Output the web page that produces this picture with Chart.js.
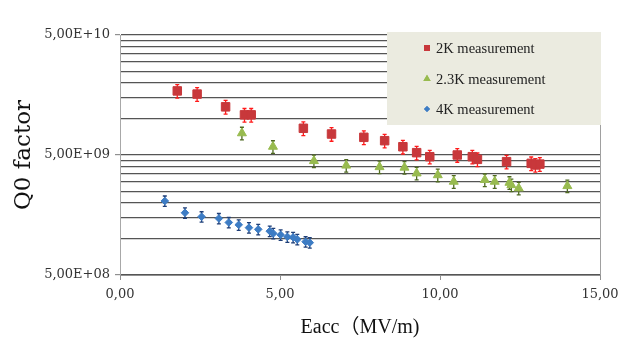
<!DOCTYPE html>
<html>
<head>
<meta charset="utf-8">
<script src="https://cdn.jsdelivr.net/npm/chart.js@4/dist/chart.umd.min.js"></script>
<style>
  html, body { margin: 0; padding: 0; background: #fff; }
  #wrap { width: 620px; height: 342px; }
</style>
</head>
<body>
<div id="wrap"><canvas id="chart" width="620" height="342"></canvas></div>
<script>
// series names (legend)
const seriesNames = ['2K measurement', '2.3K measurement', '4K measurement'];

// 2K measurement
const eacc2K = [1.79, 2.41, 3.30, 3.89, 4.10, 5.73, 6.61, 7.62, 8.27, 8.84, 9.27, 9.68, 10.54, 11.01, 11.17, 12.08, 12.85, 12.98, 13.12];
const q02K = [1.71e10, 1.61e10, 1.26e10, 1.08e10, 1.08e10, 8.35e9, 7.48e9, 7.02e9, 6.58e9, 5.86e9, 5.23e9, 4.84e9, 5.0e9, 4.84e9, 4.6e9, 4.4e9, 4.26e9, 4.13e9, 4.2e9];

// 2.3K measurement
const eacc23K = [3.81, 4.78, 6.06, 7.07, 8.11, 8.89, 9.27, 9.93, 10.43, 11.40, 11.71, 12.17, 12.23, 12.46, 13.98];
const q023K = [7.6e9, 5.87e9, 4.46e9, 4.09e9, 3.97e9, 3.93e9, 3.52e9, 3.40e9, 3.0e9, 3.1e9, 3.0e9, 2.94e9, 2.81e9, 2.64e9, 2.76e9];

// 4K measurement
const eacc4K = [1.40, 2.03, 2.55, 3.09, 3.40, 3.71, 4.03, 4.32, 4.68, 4.79, 5.02, 5.23, 5.41, 5.54, 5.80, 5.93];
const q04K = [2.07e9, 1.65e9, 1.53e9, 1.48e9, 1.37e9, 1.31e9, 1.24e9, 1.20e9, 1.16e9, 1.11e9, 1.08e9, 1.04e9, 1.03e9, 0.99e9, 9.47e8, 9.3e8];

// relative error bar size per series
const relErr = [0.13, 0.12, 0.10];

// axis ticks
const xTicks = [0, 5, 10, 15];
const xTickLabels = ['0,00', '5,00', '10,00', '15,00'];
const yMajor = [5e8, 5e9, 5e10];
const yTickLabels = ['5,00E+08', '5,00E+09', '5,00E+10'];
const yGridSteps = [1, 2, 3, 4, 5, 6, 7, 8, 9, 10];

const colors = ['#c8383b', '#98bb4f', '#3d7cc4'];
const errColors = ['#ff1a1a', '#4f6a22', '#1f3f78'];
const styles = ['rect', 'triangle', 'rectRot'];
const radii = [6, 5.2, 3.8];

const SERIF = '"Liberation Serif", "DejaVu Serif", "Noto Sans CJK SC", serif';
const WIDE_SERIF = '"DejaVu Serif", "Liberation Serif", serif';

function toPoints(xs, ys) {
    return xs.map((x, i) => ({ x: x, y: ys[i] }));
}

function isMajor(v) {
    return yMajor.findIndex(m => Math.abs(m - v) < m * 1e-6);
}

const errorBars = {
    id: 'errorBars',
    beforeDatasetsDraw(chart) {
        const ctx = chart.ctx;
        const yScale = chart.scales.y;
        chart.data.datasets.forEach((ds, i) => {
            const meta = chart.getDatasetMeta(i);
            ctx.save();
            ctx.strokeStyle = errColors[i];
            ctx.lineWidth = 1.3;
            meta.data.forEach((pt, j) => {
                const v = ds.data[j].y;
                const y1 = yScale.getPixelForValue(v * (1 + relErr[i]));
                const y2 = yScale.getPixelForValue(v * (1 - relErr[i]));
                ctx.beginPath();
                ctx.moveTo(pt.x, y1); ctx.lineTo(pt.x, y2);
                ctx.moveTo(pt.x - 2, y1); ctx.lineTo(pt.x + 2, y1);
                ctx.moveTo(pt.x - 2, y2); ctx.lineTo(pt.x + 2, y2);
                ctx.stroke();
            });
            ctx.restore();
        });
    }
};

const boxLegend = {
    id: 'boxLegend',
    afterDraw(chart) {
        const ctx = chart.ctx;
        const area = chart.chartArea;
        const bx = area.right - 213, by = area.top - 3;
        ctx.save();
        ctx.fillStyle = '#ebebe0';
        ctx.fillRect(bx, by, 214, 93);
        const rows = [by + 16, by + 47, by + 77];
        chart.data.datasets.forEach((ds, i) => {
            ctx.fillStyle = colors[i];
            Chart.helpers.drawPoint(ctx, {
                pointStyle: styles[i], rotation: 0, radius: [4.2, 4.2, 3][i], borderWidth: 0
            }, bx + 40, rows[i]);
            ctx.fill();
            ctx.fillStyle = '#222';
            ctx.font = '14.5px ' + SERIF;
            ctx.textBaseline = 'middle';
            ctx.textAlign = 'left';
            ctx.fillText(ds.label, bx + 49, rows[i] + 1);
        });
        ctx.restore();
    }
};

const datasets = [
    toPoints(eacc2K, q02K),
    toPoints(eacc23K, q023K),
    toPoints(eacc4K, q04K)
].map((pts, i) => ({
    label: seriesNames[i],
    data: pts,
    showLine: false,
    pointStyle: styles[i],
    pointRadius: radii[i],
    pointHoverRadius: radii[i],
    backgroundColor: colors[i],
    borderColor: colors[i],
    borderWidth: 1
}));

new Chart(document.getElementById('chart'), {
    type: 'scatter',
    data: { datasets: datasets },
    plugins: [errorBars, boxLegend],
    options: {
        responsive: false,
        animation: false,
        devicePixelRatio: 1,
        layout: { padding: { left: 0, right: 20, top: 35, bottom: 0 } },
        plugins: { legend: { display: false }, tooltip: { enabled: false } },
        scales: {
            x: {
                type: 'linear',
                min: 0, max: 15,
                afterBuildTicks: s => { s.ticks = xTicks.map(v => ({ value: v })); },
                afterFit: s => { s.height = 67; s.paddingLeft = 0; s.paddingRight = 0; },
                ticks: {
                    color: '#333',
                    font: { family: WIDE_SERIF, size: 13 },
                    padding: 7,
                    maxRotation: 0,
                    callback: v => xTickLabels[xTicks.indexOf(v)]
                },
                grid: {
                    color: c => (c.tick && c.tick.value === 15) ? '#a0a0a0' : 'rgba(0,0,0,0)',
                    tickColor: '#909090',
                    tickLength: 5,
                    lineWidth: 1
                },
                border: { color: '#909090' },
                title: {
                    display: true,
                    text: 'Eacc（MV/m)',
                    color: '#111',
                    font: { family: SERIF, size: 20 },
                    padding: { top: 0, bottom: 2 }
                }
            },
            y: {
                type: 'logarithmic',
                min: 5e8, max: 5e10,
                afterBuildTicks: s => {
                    const t = [];
                    [5e8, 5e9].forEach(base => {
                        yGridSteps.forEach(k => {
                            const v = base * k;
                            if (!t.some(o => Math.abs(o.value - v) < v * 1e-6)) t.push({ value: v });
                        });
                    });
                    s.ticks = t;
                },
                afterFit: s => { s.width = 120; },
                ticks: {
                    autoSkip: false,
                    color: '#333',
                    font: { family: WIDE_SERIF, size: 13 },
                    padding: 5,
                    callback: v => {
                        const i = isMajor(v);
                        return i >= 0 ? yTickLabels[i] : '';
                    }
                },
                grid: {
                    color: '#555',
                    lineWidth: 1.2,
                    tickLength: 5,
                    tickColor: c => (c.tick && isMajor(c.tick.value) >= 0) ? '#909090' : 'rgba(0,0,0,0)'
                },
                border: { color: '#a8a8a8' },
                title: {
                    display: true,
                    text: 'Q0 factor',
                    color: '#111',
                    font: { family: WIDE_SERIF, size: 23 },
                    padding: { top: 10, bottom: 0 }
                }
            }
        }
    }
});
</script>
</body>
</html>
